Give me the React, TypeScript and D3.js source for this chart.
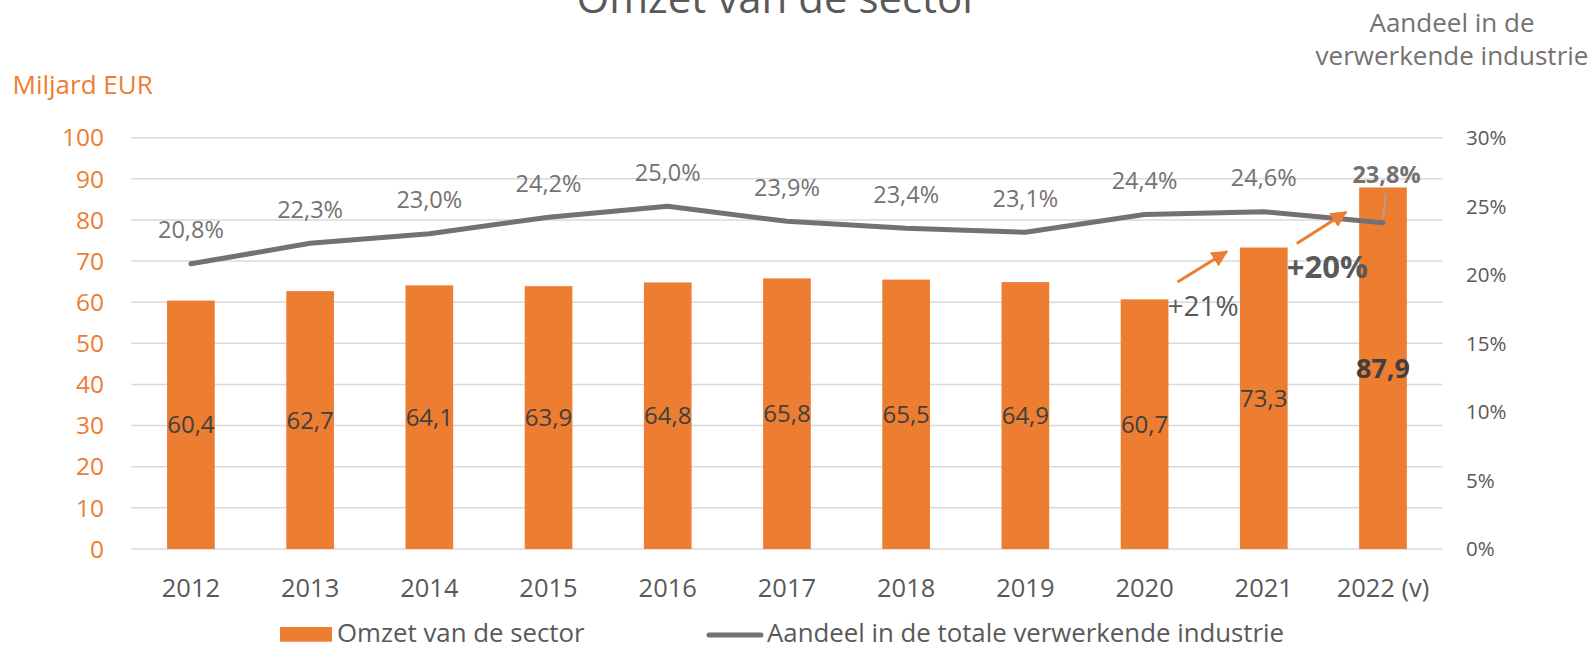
import React from "react";
import * as d3 from "d3";

const years = ["2012", "2013", "2014", "2015", "2016", "2017", "2018", "2019", "2020", "2021", "2022 (v)"];
const omzet = [60.4, 62.7, 64.1, 63.9, 64.8, 65.8, 65.5, 64.9, 60.7, 73.3, 87.9];
const aandeel = [0.208, 0.223, 0.23, 0.242, 0.25, 0.239, 0.234, 0.231, 0.244, 0.246, 0.238];
const leftTicks = [0, 10, 20, 30, 40, 50, 60, 70, 80, 90, 100];
const rightTicks = [0, 0.05, 0.1, 0.15, 0.2, 0.25, 0.3];
// growth annotations: from band index, value at start, to band index, value at tip
const growth = [
  { label: "+21%", from: 8, fromVal: 64.9, to: 9, toVal: 72.3, bold: false },
  { label: "+20%", from: 9, fromVal: 74.3, to: 10, toVal: 81.9, bold: true },
];

const FONT = "'Open Sans', 'Noto Sans', sans-serif";
const ORANGE = "#ED7D31";
const LINEGRAY = "#767171";
const TEXTGRAY = "#595959";

const fmtNum = (v: number) => v.toFixed(1).replace(".", ",");
const fmtPct = (v: number) => (v * 100).toFixed(1).replace(".", ",") + "%";

export default function App() {
  const left = 131.3;
  const right = 1442.6;
  const top = 137.7;
  const bottom = 549;

  const x = d3.scaleBand<string>().domain(years).range([left, right]).paddingInner(0.6).paddingOuter(0.3);
  const bw = x.bandwidth();
  const cx = (i: number) => (x(years[i]) as number) + bw / 2;
  const yL = d3.scaleLinear().domain([0, 100]).range([bottom, top]);
  const yR = d3.scaleLinear().domain([0, 0.3]).range([bottom, top]);

  const line = d3
    .line<number>()
    .x((_, i) => cx(i))
    .y((d) => yR(d));

  const last = aandeel.length - 1;

  return (
    <svg
      width={1591}
      height={645}
      style={{ position: "absolute", left: 0, top: 0, background: "#fff" }}
      fontFamily={FONT}
    >
      <defs>
        <marker id="arr" viewBox="0 0 10 10" refX="9" refY="5" markerWidth="5.5" markerHeight="5.5" orient="auto" markerUnits="strokeWidth">
          <path d="M0,0 L10,5 L0,10 z" fill={ORANGE} />
        </marker>
      </defs>

      {/* title */}
      <text x={778} y={13} textAnchor="middle" fontSize={42} fill={TEXTGRAY}>
        Omzet van de sector
      </text>

      {/* axis titles */}
      <text x={12.5} y={94} fontSize={26} fill={ORANGE}>
        Miljard EUR
      </text>
      <text x={1452} y={31.7} textAnchor="middle" fontSize={26} fill={LINEGRAY}>
        Aandeel in de
      </text>
      <text x={1452} y={65} textAnchor="middle" fontSize={26} fill={LINEGRAY}>
        verwerkende industrie
      </text>

      {/* gridlines */}
      {leftTicks.map((t) => (
        <line key={"g" + t} x1={left} x2={right} y1={yL(t)} y2={yL(t)} stroke="#D9D9D9" strokeWidth={1.5} />
      ))}

      {/* left axis labels */}
      {leftTicks.map((t) => (
        <text key={"l" + t} x={104} y={yL(t) + 8.7} textAnchor="end" fontSize={24.5} fill={ORANGE}>
          {t}
        </text>
      ))}

      {/* right axis labels */}
      {rightTicks.map((t) => (
        <text key={"r" + t} x={1466} y={yR(t) + 7.3} fontSize={20.5} fill={TEXTGRAY}>
          {Math.round(t * 100) + "%"}
        </text>
      ))}

      {/* bars */}
      {omzet.map((v, i) => (
        <rect key={"b" + i} x={x(years[i])} y={yL(v)} width={bw} height={yL(0) - yL(v)} fill={ORANGE} />
      ))}

      {/* bar labels */}
      {omzet.map((v, i) => {
        const bold = i === last;
        const fs = bold ? 27 : 24;
        return (
          <text
            key={"bl" + i}
            x={cx(i)}
            y={yL(v / 2) + 0.357 * fs}
            textAnchor="middle"
            fontSize={fs}
            fontWeight={bold ? 700 : 400}
            fill="#404040"
          >
            {fmtNum(v)}
          </text>
        );
      })}

      {/* line */}
      <path d={line(aandeel) || ""} fill="none" stroke={LINEGRAY} strokeWidth={5} strokeLinejoin="round" strokeLinecap="round" />

      {/* leader line for last label */}
      <line x1={cx(last) + 3} y1={yR(aandeel[last]) - 29} x2={cx(last)} y2={yR(aandeel[last]) - 4} stroke="#A6A6A6" strokeWidth={1.5} />

      {/* percent labels */}
      {aandeel.map((v, i) => {
        const bold = i === last;
        const off = bold ? 48 : 34;
        const fs = 23.5;
        return (
          <text
            key={"pl" + i}
            x={cx(i) + (bold ? 3.5 : 0)}
            y={yR(v) - off + 0.357 * fs}
            textAnchor="middle"
            fontSize={fs}
            fontWeight={bold ? 700 : 400}
            fill={LINEGRAY}
          >
            {fmtPct(v)}
          </text>
        );
      })}

      {/* growth arrows */}
      {growth.map((g, k) => (
        <line
          key={"a" + k}
          x1={cx(g.from) + 33}
          y1={yL(g.fromVal)}
          x2={cx(g.to) - 37}
          y2={yL(g.toVal)}
          stroke={ORANGE}
          strokeWidth={3}
          markerEnd="url(#arr)"
        />
      ))}
      {growth.map((g, k) => (
        <text
          key={"at" + k}
          x={cx(g.from) + 23}
          y={g.bold ? yL(g.fromVal) + 35 : yL(g.fromVal) + 33.5}
          fontSize={g.bold ? 31 : 28}
          fontWeight={g.bold ? 700 : 400}
          fill={TEXTGRAY}
        >
          {g.label}
        </text>
      ))}

      {/* x axis labels */}
      {years.map((yv, i) => (
        <text key={"x" + i} x={cx(i)} y={597} textAnchor="middle" fontSize={25.5} fill={TEXTGRAY}>
          {yv}
        </text>
      ))}

      {/* legend */}
      <rect x={280} y={627} width={52} height={14.7} fill={ORANGE} />
      <text x={337} y={641.5} fontSize={25.8} fill={TEXTGRAY}>
        Omzet van de sector
      </text>
      <line x1={709} x2={761} y1={635} y2={635} stroke={LINEGRAY} strokeWidth={5} strokeLinecap="round" />
      <text x={767} y={641.5} fontSize={25.8} fill={TEXTGRAY}>
        Aandeel in de totale verwerkende industrie
      </text>
    </svg>
  );
}
